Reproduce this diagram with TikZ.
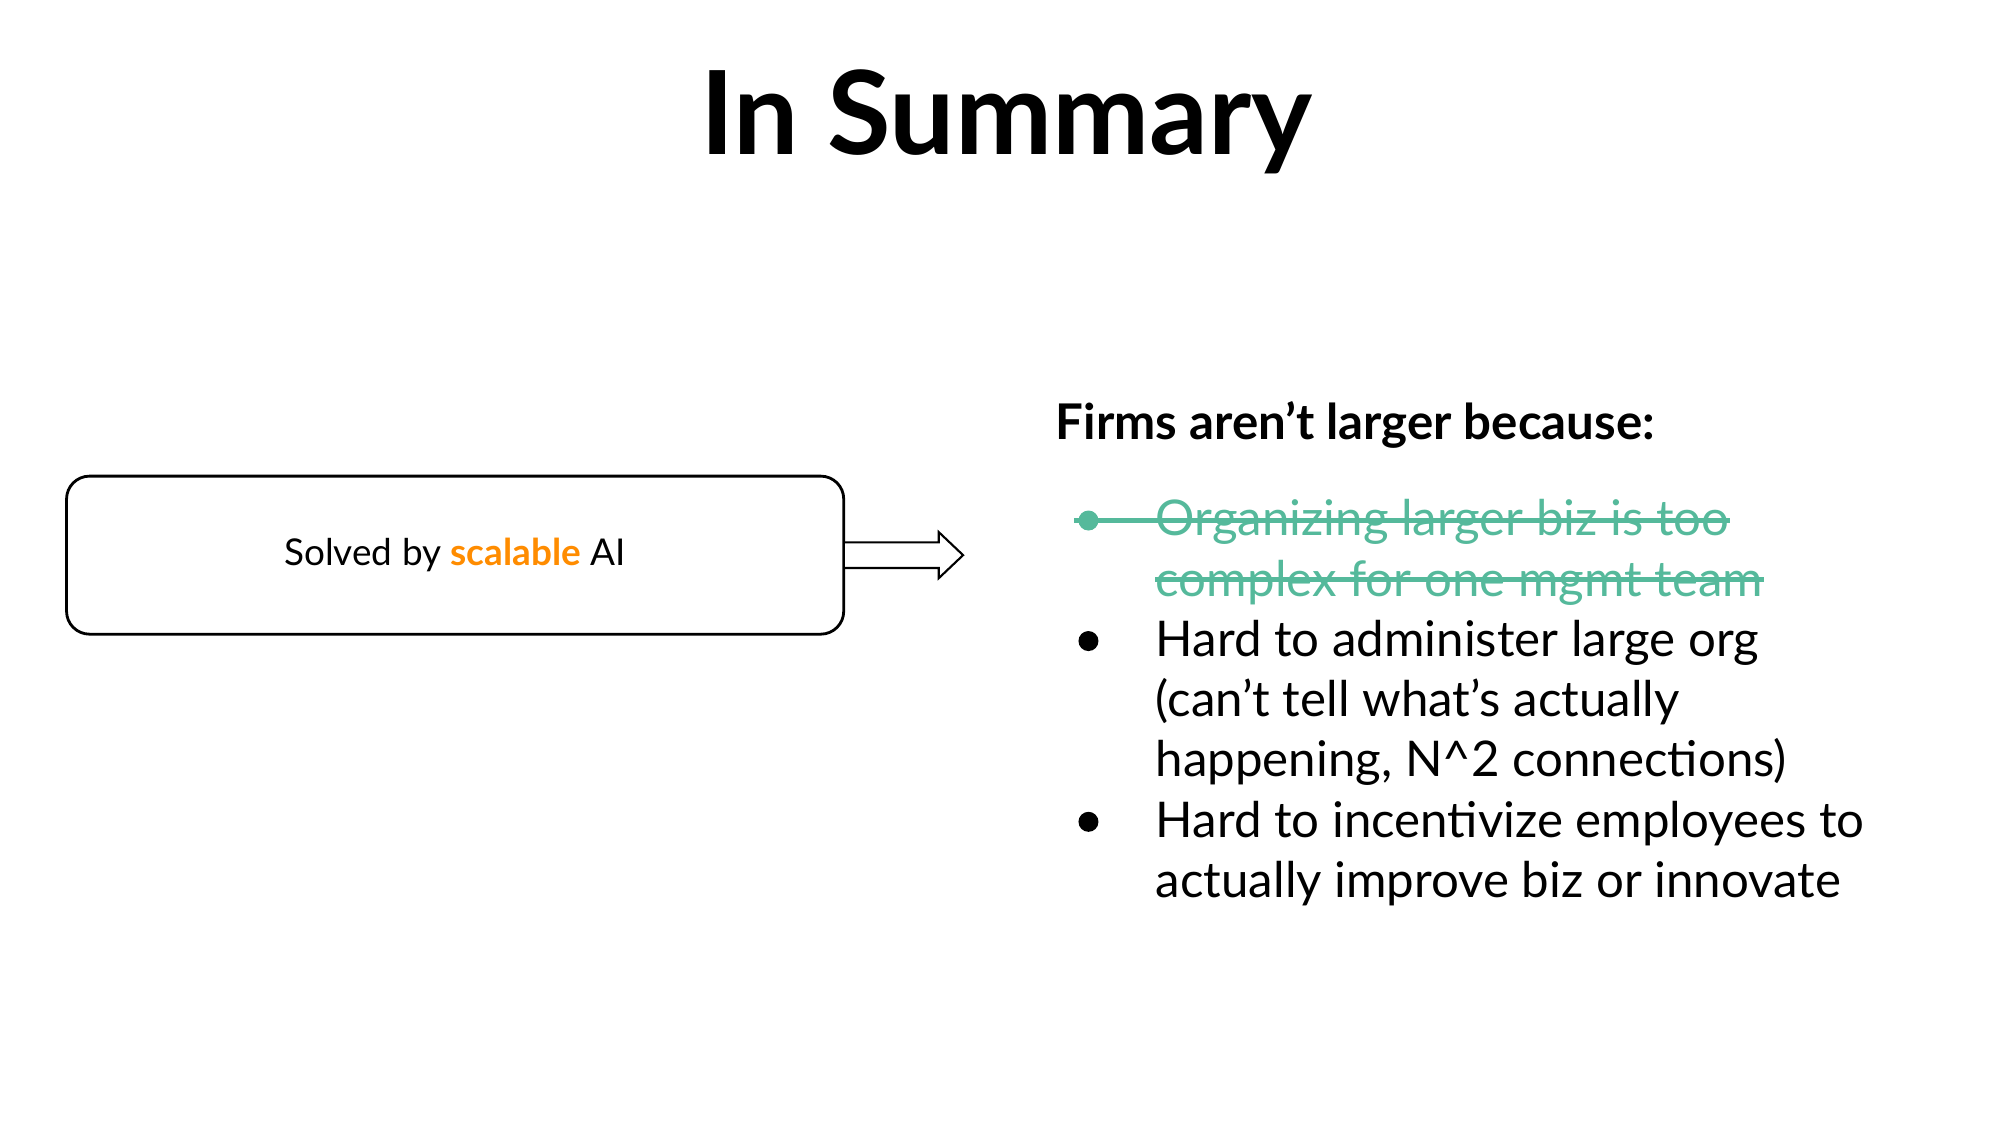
\documentclass[tikz,border=0pt]{standalone}
\usepackage{fontspec}
\setmainfont{Lato}
\usepackage{xcolor}
\definecolor{struck}{RGB}{85,185,155}
\definecolor{accent}{RGB}{255,140,0}
\usetikzlibrary{positioning}

\tikzset{
  body/.style={font=\fontsize{14}{17}\selectfont, anchor=base west, inner sep=0pt},
  dot/.style={circle, fill, inner sep=0pt, minimum size=0.2cm},
}

\begin{document}
\begin{tikzpicture}[x=0.01282cm, y=-0.01282cm]
\useasboundingbox (0,0) rectangle (1560,877.5);

\node (title) at (785,95) [font=\fontsize{33}{38}\selectfont\bfseries]{In Summary};

% left box and arrow
\node (box) at (355,433)[draw, thick, rounded corners=0.23cm, minimum width=7.77cm, minimum height=1.58cm, font=\fontsize{10.5}{12}\selectfont]{Solved by \textcolor{accent}{\textbf{scalable}} AI};
\draw[semithick, fill=white] (box.east) ++(0,-10) -- ++(73,0) -- ++(0,-8) -- ++(19,18) -- ++(-19,18) -- ++(0,-8) -- ++(-73,0);

% right text
\node (head) at (823,343)[body, font=\fontsize{14}{17}\selectfont\bfseries]{Firms aren’t larger because:};

\node (s1) at (901,418)[body, text=struck]{Organizing larger biz is too};
\node (s2) at (901,465)[body, text=struck]{complex for one mgmt team};
\node (d1) at (849,406)[dot, struck]{};
\draw[struck, line width=1.3pt] (838,406) -- (s1.east |- 0,406);
\draw[struck, line width=1.3pt] (s2.west |- 0,452) -- (s2.east |- 0,452);

\node (a1) at (901,512)[body]{Hard to administer large org};
\node (a2) at (901,559)[body]{(can’t tell what’s actually};
\node (a3) at (901,606)[body]{happening, N\^{}2 connections)};
\node (d2) at (849,500)[dot]{};

\node (b1) at (901,653)[body]{Hard to incentivize employees to};
\node (b2) at (901,700)[body]{actually improve biz or innovate};
\node (d3) at (849,641)[dot]{};
\end{tikzpicture}
\end{document}
